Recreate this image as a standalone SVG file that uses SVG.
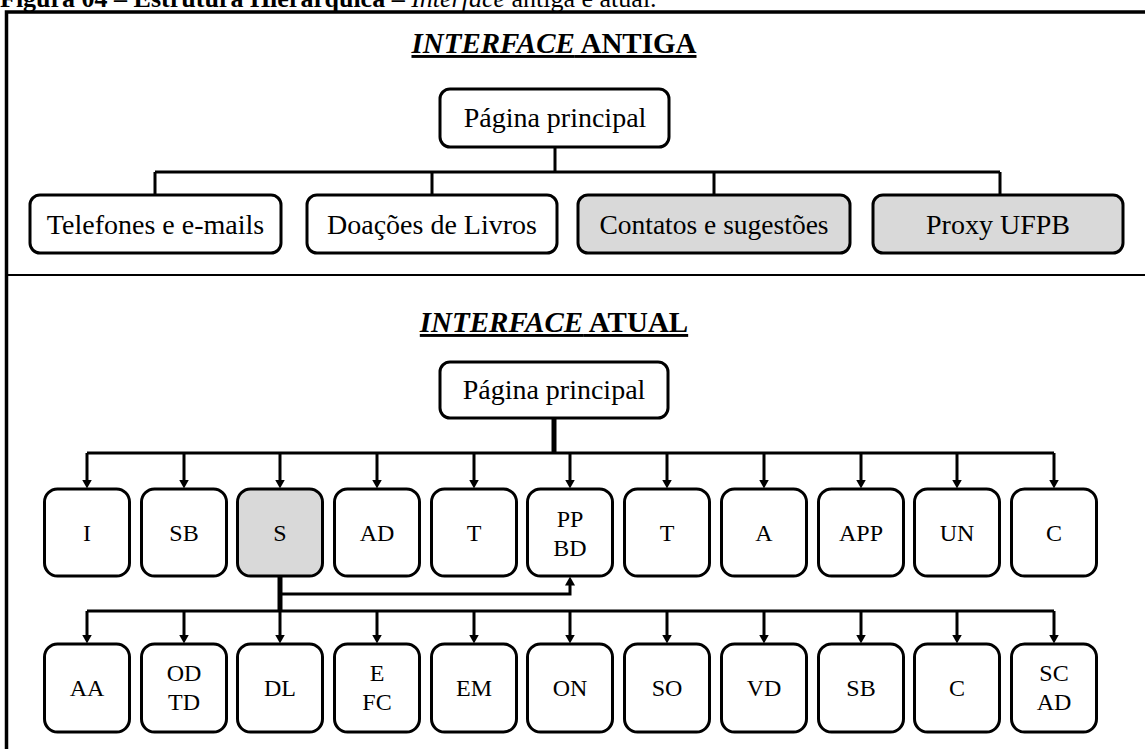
<svg xmlns="http://www.w3.org/2000/svg" width="1145" height="749" viewBox="0 0 1145 749" font-family="'Liberation Serif', 'Times New Roman', serif">
<defs>
<style>
.box{fill:#fff;stroke:#000;stroke-width:3}
.gray{fill:#d9d9d9}
.t{font-family:'Liberation Serif','Times New Roman',serif;font-size:28px;text-anchor:middle;fill:#000}
.s{font-size:24px}
.title{font-family:'Liberation Serif','Times New Roman',serif;font-size:29px;font-weight:bold;text-anchor:middle;text-decoration:underline;fill:#000}
.c{stroke:#000;stroke-width:3;fill:none}
.thick{stroke:#000;stroke-width:5;fill:none}
</style>
<marker id="ah" markerUnits="userSpaceOnUse" markerWidth="10" markerHeight="10" refX="0.5" refY="5" orient="auto">
<path d="M0,0 L9,5 L0,10 z" fill="#000"/>
</marker>
</defs>
<rect width="1145" height="749" fill="#fff"/>
<text x="0" y="7" font-family="'Liberation Serif','Times New Roman',serif" font-size="26" fill="#000"><tspan font-weight="bold">Figura 04 – Estrutura Hierárquica – </tspan><tspan font-style="italic">Interface</tspan> antiga e atual.</text>
<path d="M6.5,749 V12 H1145" fill="none" stroke="#000" stroke-width="3.5"/>
<line x1="6" y1="275" x2="1145" y2="275" stroke="#000" stroke-width="2"/>

<text class="title" x="554" y="53"><tspan font-style="italic">INTERFACE</tspan> ANTIGA</text>
<text class="title" x="554" y="332"><tspan font-style="italic">INTERFACE</tspan> ATUAL</text>

<g id="connectors">
<path class="c" d="M555,147 V172 M155,172 H1000 M155,172 V195 M432,172 V195 M714,172 V195 M1000,172 V195"/>
<path class="thick" d="M554,418 V453"/>
<path class="c" d="M87,453 H1054"/>
<path class="c" marker-end="url(#ah)" d="M87,453 V480"/>
<path class="c" marker-end="url(#ah)" d="M184,453 V480"/>
<path class="c" marker-end="url(#ah)" d="M280,453 V480"/>
<path class="c" marker-end="url(#ah)" d="M377,453 V480"/>
<path class="c" marker-end="url(#ah)" d="M474,453 V480"/>
<path class="c" marker-end="url(#ah)" d="M570,453 V480"/>
<path class="c" marker-end="url(#ah)" d="M667,453 V480"/>
<path class="c" marker-end="url(#ah)" d="M764,453 V480"/>
<path class="c" marker-end="url(#ah)" d="M861,453 V480"/>
<path class="c" marker-end="url(#ah)" d="M957,453 V480"/>
<path class="c" marker-end="url(#ah)" d="M1054,453 V480"/>
<path class="thick" d="M280,576 V611"/>
<path class="c" stroke-width="2.5" marker-end="url(#ah)" d="M280,594 H570 V585"/>
<path class="c" d="M87,611 H1054"/>
<path class="c" marker-end="url(#ah)" d="M87,611 V635"/>
<path class="c" marker-end="url(#ah)" d="M184,611 V635"/>
<path class="c" marker-end="url(#ah)" d="M280,611 V635"/>
<path class="c" marker-end="url(#ah)" d="M377,611 V635"/>
<path class="c" marker-end="url(#ah)" d="M474,611 V635"/>
<path class="c" marker-end="url(#ah)" d="M570,611 V635"/>
<path class="c" marker-end="url(#ah)" d="M667,611 V635"/>
<path class="c" marker-end="url(#ah)" d="M764,611 V635"/>
<path class="c" marker-end="url(#ah)" d="M861,611 V635"/>
<path class="c" marker-end="url(#ah)" d="M957,611 V635"/>
<path class="c" marker-end="url(#ah)" d="M1054,611 V635"/>
</g>

<g id="old-home"><rect class="box" x="440" y="89" width="229" height="58" rx="10"/><text class="t" x="555" y="127">Página principal</text></g>
<g id="old-tel"><rect class="box" x="30" y="195" width="251" height="58" rx="10"/><text class="t" x="155.5" y="234">Telefones e e-mails</text></g>
<g id="old-doa"><rect class="box" x="307" y="195" width="250" height="58" rx="10"/><text class="t" x="432" y="234">Doações de Livros</text></g>
<g id="old-cont"><rect class="box gray" x="578" y="195" width="272" height="58" rx="10"/><text class="t" x="714" y="234" style="font-size:27.5px">Contatos e sugestões</text></g>
<g id="old-proxy"><rect class="box gray" x="873" y="195" width="250" height="58" rx="10"/><text class="t" x="998" y="234">Proxy UFPB</text></g>

<g id="new-home"><rect class="box" x="440" y="362" width="228" height="56" rx="10"/><text class="t" x="554" y="399">Página principal</text></g>

<g id="r1-I"><rect class="box" x="44.5" y="489" width="85" height="87" rx="13"/><text class="t s" x="87" y="541">I</text></g>
<g id="r1-SB"><rect class="box" x="141.5" y="489" width="85" height="87" rx="13"/><text class="t s" x="184" y="541">SB</text></g>
<g id="r1-S"><rect class="box gray" x="237.5" y="489" width="85" height="87" rx="13"/><text class="t s" x="280" y="541">S</text></g>
<g id="r1-AD"><rect class="box" x="334.5" y="489" width="85" height="87" rx="13"/><text class="t s" x="377" y="541">AD</text></g>
<g id="r1-T1"><rect class="box" x="431.5" y="489" width="85" height="87" rx="13"/><text class="t s" x="474" y="541">T</text></g>
<g id="r1-PPBD"><rect class="box" x="527.5" y="489" width="85" height="87" rx="13"/><text class="t s" x="570" y="527">PP</text><text class="t s" x="570" y="556">BD</text></g>
<g id="r1-T2"><rect class="box" x="624.5" y="489" width="85" height="87" rx="13"/><text class="t s" x="667" y="541">T</text></g>
<g id="r1-A"><rect class="box" x="721.5" y="489" width="85" height="87" rx="13"/><text class="t s" x="764" y="541">A</text></g>
<g id="r1-APP"><rect class="box" x="818.5" y="489" width="85" height="87" rx="13"/><text class="t s" x="861" y="541">APP</text></g>
<g id="r1-UN"><rect class="box" x="914.5" y="489" width="85" height="87" rx="13"/><text class="t s" x="957" y="541">UN</text></g>
<g id="r1-C"><rect class="box" x="1011.5" y="489" width="85" height="87" rx="13"/><text class="t s" x="1054" y="541">C</text></g>

<g id="r2-AA"><rect class="box" x="44.5" y="644" width="85" height="88" rx="13"/><text class="t s" x="87" y="696">AA</text></g>
<g id="r2-ODTD"><rect class="box" x="141.5" y="644" width="85" height="88" rx="13"/><text class="t s" x="184" y="681">OD</text><text class="t s" x="184" y="710">TD</text></g>
<g id="r2-DL"><rect class="box" x="237.5" y="644" width="85" height="88" rx="13"/><text class="t s" x="280" y="696">DL</text></g>
<g id="r2-EFC"><rect class="box" x="334.5" y="644" width="85" height="88" rx="13"/><text class="t s" x="377" y="681">E</text><text class="t s" x="377" y="710">FC</text></g>
<g id="r2-EM"><rect class="box" x="431.5" y="644" width="85" height="88" rx="13"/><text class="t s" x="474" y="696">EM</text></g>
<g id="r2-ON"><rect class="box" x="527.5" y="644" width="85" height="88" rx="13"/><text class="t s" x="570" y="696">ON</text></g>
<g id="r2-SO"><rect class="box" x="624.5" y="644" width="85" height="88" rx="13"/><text class="t s" x="667" y="696">SO</text></g>
<g id="r2-VD"><rect class="box" x="721.5" y="644" width="85" height="88" rx="13"/><text class="t s" x="764" y="696">VD</text></g>
<g id="r2-SB"><rect class="box" x="818.5" y="644" width="85" height="88" rx="13"/><text class="t s" x="861" y="696">SB</text></g>
<g id="r2-C"><rect class="box" x="914.5" y="644" width="85" height="88" rx="13"/><text class="t s" x="957" y="696">C</text></g>
<g id="r2-SCAD"><rect class="box" x="1011.5" y="644" width="85" height="88" rx="13"/><text class="t s" x="1054" y="681">SC</text><text class="t s" x="1054" y="710">AD</text></g>
</svg>
